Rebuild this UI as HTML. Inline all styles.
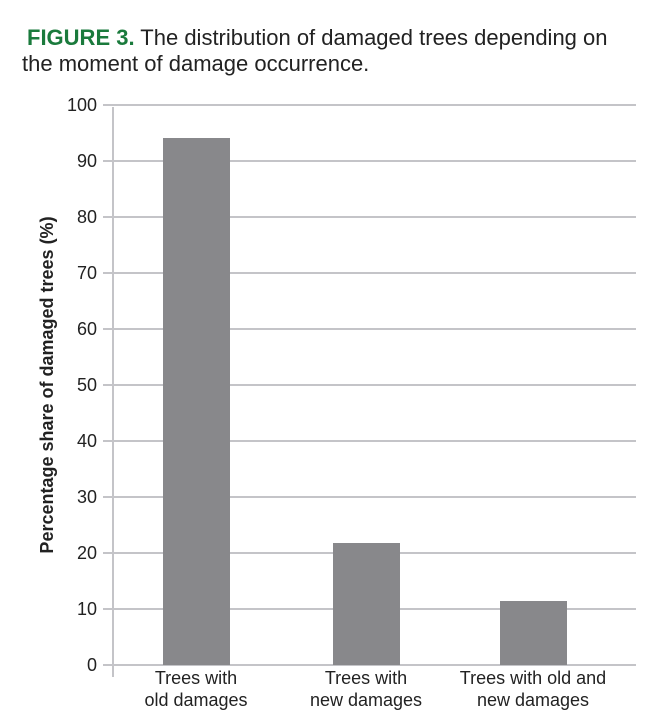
<!DOCTYPE html>
<html><head><meta charset="utf-8"><style>
body{margin:0;background:#fff;}
</style></head><body>
<svg width="672" height="717" xmlns="http://www.w3.org/2000/svg" font-family="Liberation Sans, sans-serif">
<text x="27" y="45" font-size="22" fill="#222"><tspan fill="#1a7a3c" font-weight="bold">FIGURE 3.</tspan> The distribution of damaged trees depending on</text>
<text x="22" y="71" font-size="22" fill="#222">the moment of damage occurrence.</text>
<g stroke="#c4c4c8" stroke-width="2">
<line x1="103" y1="105" x2="636" y2="105"/>
<line x1="103" y1="161" x2="636" y2="161"/>
<line x1="103" y1="217" x2="636" y2="217"/>
<line x1="103" y1="273" x2="636" y2="273"/>
<line x1="103" y1="329" x2="636" y2="329"/>
<line x1="103" y1="385" x2="636" y2="385"/>
<line x1="103" y1="441" x2="636" y2="441"/>
<line x1="103" y1="497" x2="636" y2="497"/>
<line x1="103" y1="553" x2="636" y2="553"/>
<line x1="103" y1="609" x2="636" y2="609"/>
<line x1="103" y1="665" x2="636" y2="665"/>
<line x1="113" y1="107" x2="113" y2="677"/>
</g>
<g fill="#88888b">
<rect x="163" y="138" width="67" height="527"/>
<rect x="333" y="543" width="67" height="122"/>
<rect x="500" y="601" width="67" height="64"/>
</g>
<g font-size="18" fill="#222" text-anchor="end">
<text x="97" y="111">100</text><text x="97" y="167">90</text><text x="97" y="223">80</text>
<text x="97" y="279">70</text><text x="97" y="335">60</text><text x="97" y="391">50</text>
<text x="97" y="447">40</text><text x="97" y="503">30</text><text x="97" y="559">20</text>
<text x="97" y="615">10</text><text x="97" y="671">0</text>
</g>
<g font-size="18" fill="#222" text-anchor="middle">
<text x="196" y="684">Trees with</text><text x="196" y="706">old damages</text>
<text x="366" y="684">Trees with</text><text x="366" y="706">new damages</text>
<text x="533" y="684">Trees with old and</text><text x="533" y="706">new damages</text>
</g>
<text transform="translate(53,385) rotate(-90)" font-size="18" font-weight="bold" fill="#222" text-anchor="middle">Percentage share of damaged trees (%)</text>
</svg>
</body></html>
